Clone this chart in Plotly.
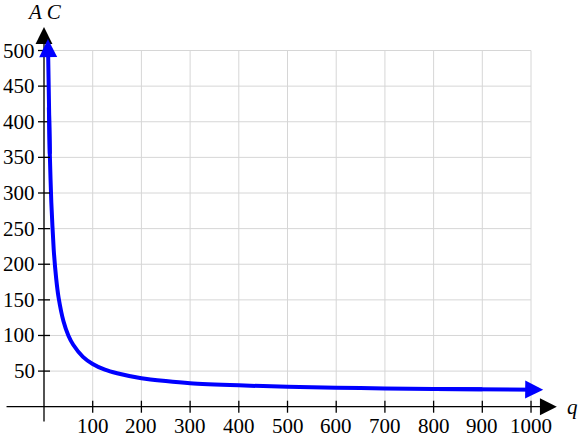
import plotly.graph_objects as go

# Values (average cost vs quantity)
q_vals = [8, 10, 12, 15, 20, 25, 30, 40, 50, 60, 80, 100, 125, 150, 200, 250, 300,
          400, 500, 600, 700, 800, 900, 1025]
ac_vals = [516, 420, 353, 287, 220, 180, 153, 120, 100, 87, 70, 60, 52, 47, 40, 36, 33,
           30, 28, 26.7, 25.7, 25, 24.4, 23.9]

x_ticks = [100, 200, 300, 400, 500, 600, 700, 800, 900, 1000]
y_ticks = [50, 100, 150, 200, 250, 300, 350, 400, 450, 500]
x_labels = [str(v) for v in x_ticks]
y_labels = [str(v) for v in y_ticks]

FONT = "Liberation Serif"
FS = 21
GRID = "#d6d6d6"
BLUE = "#0000ff"

fig = go.Figure()
fig.add_trace(go.Scatter(x=q_vals[1:-1], y=ac_vals[1:-1], mode="lines",
                         line=dict(color=BLUE, width=4, shape="spline", smoothing=0.6),
                         hoverinfo="skip"))

shapes = []
# grid
for v in [0] + x_ticks:
    shapes.append(dict(type="line", xref="x", yref="y", x0=v, x1=v, y0=0, y1=y_ticks[-1],
                       line=dict(color=GRID, width=1), layer="below"))
for v in [0] + y_ticks:
    shapes.append(dict(type="line", xref="x", yref="y", x0=0, x1=x_ticks[-1], y0=v, y1=v,
                       line=dict(color=GRID, width=1), layer="below"))
# tick marks crossing axes
for v in x_ticks:
    shapes.append(dict(type="line", xref="x", yref="y", ysizemode="pixel", yanchor=0,
                       x0=v, x1=v, y0=-6, y1=6, line=dict(color="black", width=1.3)))
for v in y_ticks:
    shapes.append(dict(type="line", xref="x", yref="y", xsizemode="pixel", xanchor=0,
                       x0=-6, x1=6, y0=v, y1=v, line=dict(color="black", width=1.3)))

ann = []
# axes with arrows
ann.append(dict(x=1053, y=0, ax=-80, ay=0, xref="x", yref="y", axref="x", ayref="y",
                showarrow=True, arrowhead=2, arrowsize=2.6, arrowwidth=1.3,
                arrowcolor="black", text=""))
ann.append(dict(x=0, y=533, ax=0, ay=-23, xref="x", yref="y", axref="x", ayref="y",
                showarrow=True, arrowhead=2, arrowsize=2.6, arrowwidth=1.3,
                arrowcolor="black", text=""))
# curve end arrows
ann.append(dict(x=q_vals[0], y=ac_vals[0], ax=q_vals[2], ay=ac_vals[2], xref="x", yref="y",
                axref="x", ayref="y", showarrow=True, arrowhead=2, arrowsize=0.9,
                arrowwidth=4, arrowcolor=BLUE, text=""))
ann.append(dict(x=q_vals[-1], y=ac_vals[-1], ax=q_vals[-3], ay=ac_vals[-3], xref="x", yref="y",
                axref="x", ayref="y", showarrow=True, arrowhead=2, arrowsize=0.9,
                arrowwidth=4, arrowcolor=BLUE, text=""))
# tick labels
for v, t in zip(x_ticks, x_labels):
    ann.append(dict(x=v, y=0, xref="x", yref="y", text=t, showarrow=False,
                    yanchor="top", yshift=-5, font=dict(family=FONT, size=FS, color="black")))
for v, t in zip(y_ticks, y_labels):
    ann.append(dict(x=0, y=v, xref="x", yref="y", text=t, showarrow=False,
                    xanchor="right", xshift=-7, font=dict(family=FONT, size=FS, color="black")))
# axis titles
ann.append(dict(x=0, y=533, xref="x", yref="y", text="<i>A C</i>", showarrow=False,
                yanchor="bottom", yshift=1, font=dict(family=FONT, size=FS, color="black")))
ann.append(dict(x=1053, y=0, xref="x", yref="y", text="<i>q</i>", showarrow=False,
                xanchor="left", xshift=8, font=dict(family=FONT, size=FS, color="black")))

fig.update_layout(
    width=586, height=437,
    margin=dict(l=0, r=0, t=0, b=0),
    paper_bgcolor="white", plot_bgcolor="white",
    showlegend=False,
    xaxis=dict(range=[-90.35, 1112.9], visible=False, fixedrange=True),
    yaxis=dict(range=[-42.5, 570.9], visible=False, fixedrange=True),
    shapes=shapes, annotations=ann,
)
fig.write_html("out.html", config={"displayModeBar": False},
               post_script="document.body.style.margin='0';document.body.style.overflow='hidden';")
